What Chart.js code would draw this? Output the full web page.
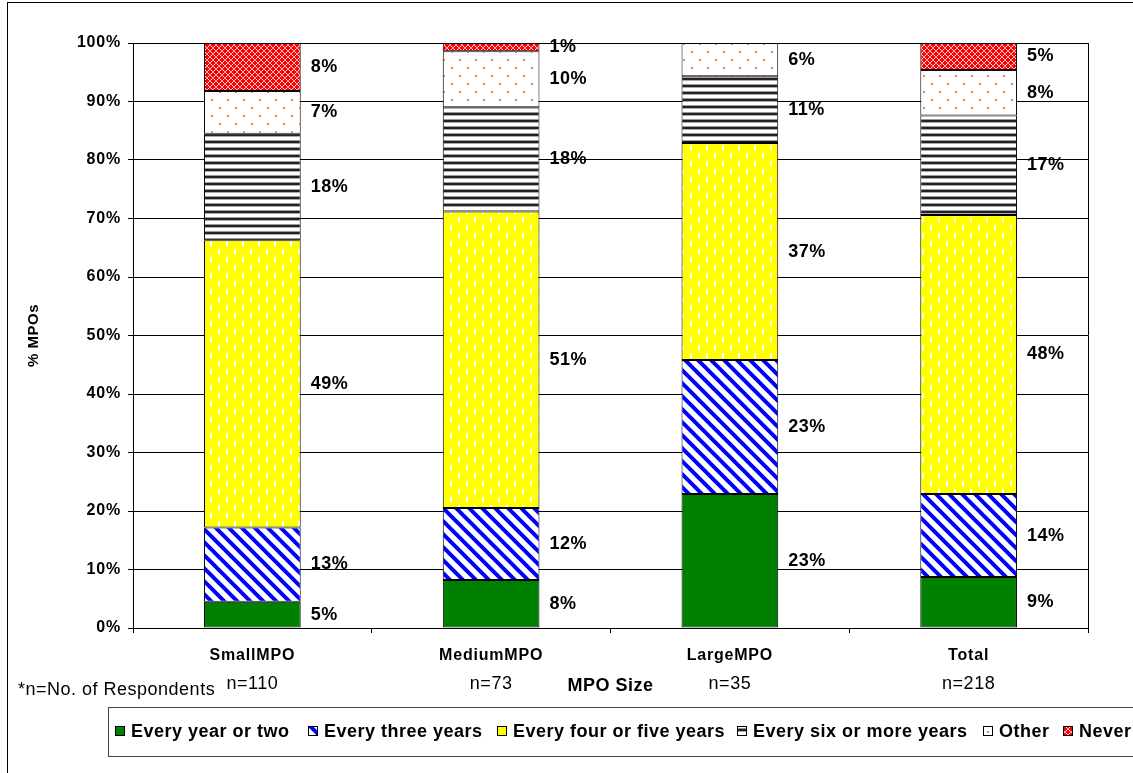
<!DOCTYPE html>
<html>
<head>
<meta charset="utf-8">
<script src="https://cdn.jsdelivr.net/npm/chart.js@4.4.1/dist/chart.umd.min.js"></script>
<style>
  html, body { margin: 0; padding: 0; background: #fff; }
  canvas { display: block; }
</style>
</head>
<body>
<canvas id="myChart" width="1133" height="773"></canvas>
<script>
// categories and respondent counts
const categorias = ['SmallMPO', 'MediumMPO', 'LargeMPO', 'Total']
const respondentes = ['n=110', 'n=73', 'n=35', 'n=218']

// percent of MPOs per answer
const cadaAno = [4.5, 8.2, 22.9, 8.7]
const tresAnos = [12.7, 12.3, 22.9, 14.2]
const cuatroCinco = [49.1, 50.7, 37.1, 47.7]
const seisMas = [18.2, 17.8, 11.4, 17.0]
const otro = [7.3, 9.6, 5.7, 7.8]
const nunca = [8.2, 1.4, 0, 4.6]

const etiquetasY = ['0%', '10%', '20%', '30%', '40%', '50%', '60%', '70%', '80%', '90%', '100%']

const FONT = '"Liberation Sans", Arial, sans-serif'

function hacerPatron(w, h, dibujar) {
    const c = document.createElement('canvas')
    c.width = w
    c.height = h
    const g = c.getContext('2d')
    dibujar(g)
    return document.createElement('canvas').getContext('2d').createPattern(c, 'repeat')
}

const patAzul = hacerPatron(13, 13, g => {
    g.fillStyle = '#fff'
    g.fillRect(0, 0, 13, 13)
    g.strokeStyle = '#0000ff'
    g.lineWidth = 4
    g.beginPath()
    for (let k = -13; k <= 13; k += 13) {
        g.moveTo(k - 2, -2)
        g.lineTo(k + 15, 15)
    }
    g.stroke()
})

const patAmarillo = hacerPatron(16, 16, g => {
    g.fillStyle = '#ffff00'
    g.fillRect(0, 0, 16, 16)
    g.fillStyle = '#fff'
    g.fillRect(2, 1, 2, 5)
    g.fillRect(10, 9, 2, 5)
})

const patRayas = hacerPatron(4, 7, g => {
    g.fillStyle = '#fff'
    g.fillRect(0, 0, 4, 7)
    g.fillStyle = '#999'
    g.fillRect(0, 0, 4, 1)
    g.fillStyle = '#222'
    g.fillRect(0, 1, 4, 2)
    g.fillStyle = '#aaa'
    g.fillRect(0, 3, 4, 1)
})

const patPuntos = hacerPatron(16, 16, g => {
    g.fillStyle = '#fff'
    g.fillRect(0, 0, 16, 16)
    g.fillStyle = '#ff7f3a'
    g.fillRect(3, 3, 2, 2)
    g.fillRect(11, 11, 2, 2)
})

const patRojo = hacerPatron(6, 6, g => {
    g.fillStyle = '#ff0000'
    g.fillRect(0, 0, 6, 6)
    g.fillStyle = '#ffb0b0'
    g.fillRect(2, 0, 2, 1)
    g.fillRect(2, 5, 2, 1)
    g.fillRect(0, 2, 1, 2)
    g.fillRect(5, 2, 1, 2)
    g.fillStyle = '#ffffff'
    g.fillRect(1, 1, 1, 1)
    g.fillRect(4, 1, 1, 1)
    g.fillRect(1, 4, 1, 1)
    g.fillRect(4, 4, 1, 1)
})

const series = [
    { label: 'Every year or two', data: cadaAno, fondo: '#008000' },
    { label: 'Every three years', data: tresAnos, fondo: patAzul },
    { label: 'Every four or five years', data: cuatroCinco, fondo: patAmarillo },
    { label: 'Every six or more years', data: seisMas, fondo: patRayas },
    { label: 'Other', data: otro, fondo: patPuntos },
    { label: 'Never', data: nunca, fondo: patRojo }
]

// where each legend entry starts
const leyendaX = [115, 308, 497, 737, 983, 1063]

// a bit wider text, like the original
const espaciado = {
    id: 'espaciado',
    beforeDraw(chart) {
        chart.ctx.letterSpacing = '0.8px'
    }
}

// labels of each segment, to the right of the bar
const etiquetasBarras = {
    id: 'etiquetasBarras',
    afterDatasetsDraw(chart) {
        const ctx = chart.ctx
        ctx.save()
        ctx.letterSpacing = '0.5px'
        ctx.font = 'bold 18px ' + FONT
        ctx.fillStyle = '#000'
        ctx.textAlign = 'left'
        ctx.textBaseline = 'middle'
        chart.data.datasets.forEach((ds, i) => {
            const meta = chart.getDatasetMeta(i)
            meta.data.forEach((bar, j) => {
                const v = ds.data[j]
                if (!v) return
                const y = (bar.y + bar.base) / 2
                ctx.fillText(Math.round(v) + '%', bar.x + bar.width / 2 + 10, y)
            })
        })
        ctx.restore()
    }
}

// frame, titles, respondents and legend
const decoracion = {
    id: 'decoracion',
    afterDraw(chart) {
        const ctx = chart.ctx
        const a = chart.chartArea
        const x = chart.scales.x
        ctx.save()
        ctx.letterSpacing = '0.5px'

        // outer frame
        ctx.strokeStyle = '#000'
        ctx.lineWidth = 1
        ctx.strokeRect(7.5, 2.5, 1200, 900)

        // plot area right border
        ctx.beginPath()
        ctx.moveTo(Math.round(a.right) + 0.5, a.top)
        ctx.lineTo(Math.round(a.right) + 0.5, a.bottom)
        ctx.stroke()

        // y title
        ctx.fillStyle = '#000'
        ctx.font = 'bold 15px ' + FONT
        ctx.textAlign = 'center'
        ctx.textBaseline = 'middle'
        ctx.save()
        ctx.translate(34, (a.top + a.bottom) / 2)
        ctx.rotate(-Math.PI / 2)
        ctx.fillText('% MPOs', 0, 0)
        ctx.restore()

        // x title
        ctx.font = 'bold 18px ' + FONT
        ctx.fillText('MPO Size', (a.left + a.right) / 2, 686)

        // respondents
        ctx.font = '18px ' + FONT
        respondentes.forEach((t, i) => {
            ctx.fillText(t, x.getPixelForValue(i), 684)
        })
        ctx.textAlign = 'left'
        ctx.fillText('*n=No. of Respondents', 18, 690)

        // legend box
        ctx.strokeStyle = '#444'
        ctx.strokeRect(108.5, 707.5, 1100, 49)

        ctx.font = 'bold 18px ' + FONT
        const ly = 731
        chart.data.datasets.forEach((ds, i) => {
            const lx = leyendaX[i]
            ctx.fillStyle = ds.backgroundColor
            ctx.fillRect(lx, ly - 5, 10, 10)
            ctx.strokeStyle = '#000'
            ctx.strokeRect(lx + 0.5, ly - 4.5, 9, 9)
            ctx.fillStyle = '#000'
            ctx.fillText(ds.label, lx + 16, ly + 1)
        })

        ctx.restore()
    }
}

const ctx = document.getElementById('myChart')

new Chart(ctx, {
    type: 'bar',
    data: {
        labels: categorias,
        datasets: series.map(s => ({
            label: s.label,
            data: s.data,
            backgroundColor: s.fondo,
            borderColor: '#000',
            borderWidth: 1,
            borderSkipped: false,
            barPercentage: 0.405,
            categoryPercentage: 1
        }))
    },
    options: {
        responsive: false,
        animation: false,
        layout: {
            padding: { left: 8, right: 45, top: 43, bottom: 0 }
        },
        plugins: {
            legend: { display: false },
            tooltip: { enabled: false }
        },
        scales: {
            x: {
                stacked: true,
                grid: {
                    offset: true,
                    drawOnChartArea: false,
                    drawTicks: true,
                    tickLength: 5,
                    color: '#000'
                },
                border: { color: '#000' },
                ticks: {
                    color: '#000',
                    padding: 13,
                    font: { family: FONT, size: 16, weight: 'bold' }
                },
                afterFit(scale) { scale.height = 145 }
            },
            y: {
                stacked: true,
                min: 0,
                max: 100,
                grid: {
                    color: '#000',
                    tickLength: 5
                },
                border: { color: '#000' },
                ticks: {
                    stepSize: 10,
                    color: '#000',
                    padding: 7,
                    font: { family: FONT, size: 16, weight: 'bold' },
                    callback: (v, i) => etiquetasY[i]
                },
                afterFit(scale) { scale.width = 125 }
            }
        }
    },
    plugins: [espaciado, etiquetasBarras, decoracion]
})
</script>
</body>
</html>
